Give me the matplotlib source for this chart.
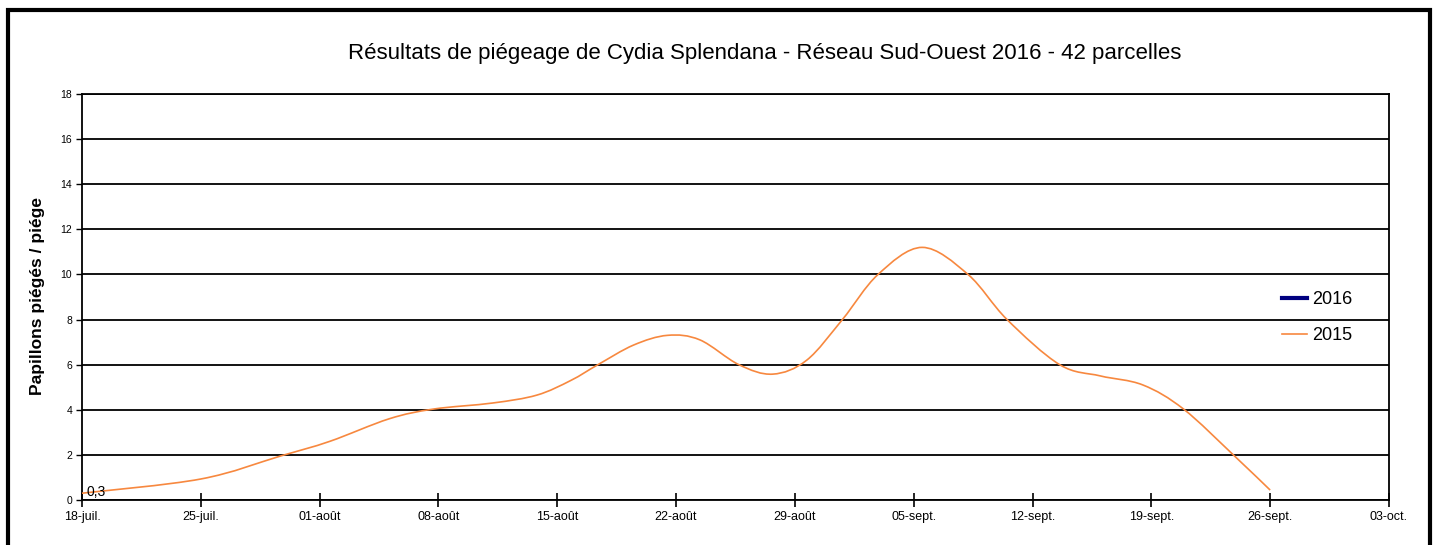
import numpy as np
import pandas as pd
import matplotlib
matplotlib.use("Agg")
import matplotlib.pyplot as plt
import matplotlib.dates as mdates
from matplotlib.patches import Rectangle, PathPatch
from matplotlib.path import Path
from matplotlib.lines import Line2D

plt.rcParams["font.family"] = ["Liberation Sans", "DejaVu Sans"]

# ---------- Data ----------
start = pd.Timestamp("2016-07-18")
# days after 18-juil and papillons / piege for 2015 curve
days_2015 = [0.0, 7.0, 11.7, 14.6, 18.1, 20.7, 24.2, 26.8, 28.8, 30.4, 32.5,
             34.5, 36.4, 38.7, 40.7, 42.7, 44.8, 46.9, 49.5,
             52.2, 54.5, 57.6, 60.0, 62.5, 64.9, 67.9, 70.0]
vals_2015 = [0.3, 0.93, 1.95, 2.6, 3.6, 4.03, 4.3, 4.65, 5.3, 6.0, 6.87,
             7.3, 7.1, 6.0, 5.58, 6.2, 8.0, 10.0, 11.2,
             10.0, 8.0, 6.0, 5.5, 5.1, 4.03, 1.95, 0.44]
# 2016 series has no point shown
days_2016 = []
vals_2016 = []

tick_labels = ["18-juil.", "25-juil.", "01-août", "08-août", "15-août", "22-août",
               "29-août", "05-sept.", "12-sept.", "19-sept.", "26-sept.", "03-oct."]
first_label = "0,3"

dates_2015 = start + pd.to_timedelta(days_2015, unit="D")
tick_dates = [start + pd.Timedelta(days=7 * i) for i in range(len(tick_labels))]


def smooth_path(x, y):
    # Excel-like smoothed line: cubic Bezier through the points (Catmull-Rom)
    x = np.asarray(x, float)
    y = np.asarray(y, float)
    verts = [(x[0], y[0])]
    codes = [Path.MOVETO]
    n = len(x)
    for i in range(n - 1):
        x0, y0 = (x[i - 1], y[i - 1]) if i > 0 else (x[i], y[i])
        x3, y3 = (x[i + 2], y[i + 2]) if i + 2 < n else (x[i + 1], y[i + 1])
        c1 = (x[i] + (x[i + 1] - x0) / 6, y[i] + (y[i + 1] - y0) / 6)
        c2 = (x[i + 1] - (x3 - x[i]) / 6, y[i + 1] - (y3 - y[i]) / 6)
        verts += [c1, c2, (x[i + 1], y[i + 1])]
        codes += [Path.CURVE4] * 3
    return Path(verts, codes)


# ---------- Plot ----------
fig = plt.figure(figsize=(14.38, 5.45), dpi=100)
ax = fig.add_axes([0.0570, 0.0826, 0.9089, 0.7449])

color_2015 = "#F7883F"
color_2016 = "#000080"

xnum = mdates.date2num(dates_2015.to_pydatetime())
ax.add_patch(PathPatch(smooth_path(xnum, vals_2015), facecolor="none",
                       edgecolor=color_2015, linewidth=1.2, zorder=3))

ax.annotate(first_label, (dates_2015[0], vals_2015[0]), xytext=(3, 1),
            textcoords="offset points", fontsize=10, va="center", ha="left")

ax.set_xlim(tick_dates[0], tick_dates[-1])
ax.set_ylim(0, 18)
ax.set_yticks(np.arange(0, 19, 2))
ax.set_xticks(tick_dates)
ax.set_xticklabels(tick_labels, fontsize=9)
ax.tick_params(axis="y", labelsize=7.5, direction="out", length=4, width=1, pad=3)
ax.tick_params(axis="x", direction="inout", length=10, width=1.2, pad=3)

ax.grid(True, axis="y", color="black", linewidth=1.3)
ax.set_axisbelow(True)
for s in ax.spines.values():
    s.set_linewidth(1.3)
    s.set_color("black")

fig.text(0.532, 0.902, "Résultats de piégeage de Cydia Splendana - Réseau Sud-Ouest 2016 - 42 parcelles",
         ha="center", va="center", fontsize=16)
fig.text(0.0264, 0.457, "Papillons piégés / piége", rotation=90, ha="center", va="center",
         fontsize=12.5, fontweight="bold")

handles = [Line2D([], [], color=color_2016, linewidth=3),
           Line2D([], [], color=color_2015, linewidth=1.2)]
ax.legend(handles, ["2016", "2015"], loc="upper left",
          bbox_to_anchor=(1266 / 1438, 1 - 275 / 545),
          bbox_transform=fig.transFigure, frameon=False, fontsize=13,
          handlelength=1.35, handletextpad=0.3, labelspacing=1.05)

# outer frame
fig.patches.append(Rectangle((8 / 1438, -0.05), (1430 - 8) / 1438, 1.05 - 10 / 545,
                             transform=fig.transFigure, fill=False,
                             edgecolor="black", linewidth=3))

fig.savefig("out.png", dpi=100)
